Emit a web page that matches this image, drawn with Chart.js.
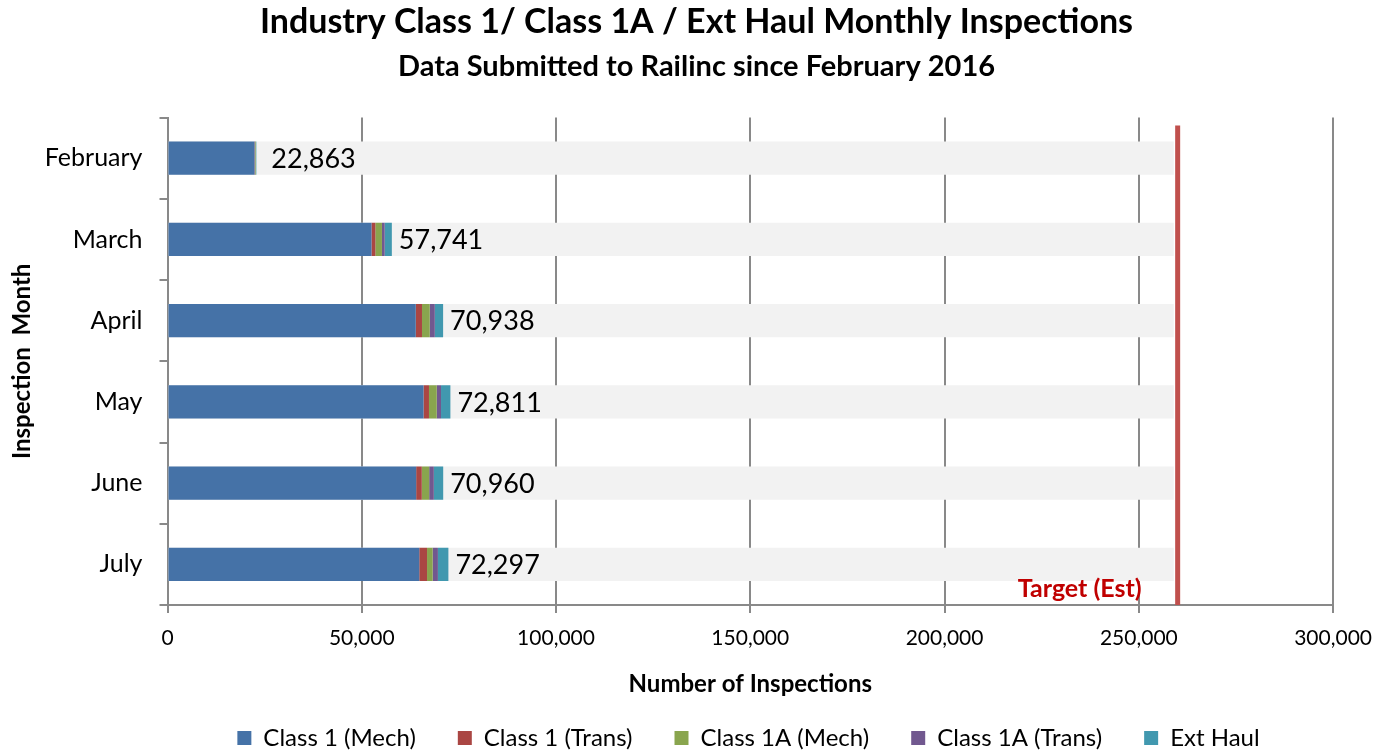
<!DOCTYPE html>
<html>
<head>
<meta charset="utf-8">
<script src="https://cdn.jsdelivr.net/npm/chart.js@4.4.0/dist/chart.umd.min.js"></script>
<style>
  body { margin: 0; background: #fff; }
  #wrap { width: 1385px; height: 755px; }
</style>
</head>
<body>
<div id="wrap"><canvas id="inspChart" width="1385" height="755"></canvas></div>
<script>
var months = ['February', 'March', 'April', 'May', 'June', 'July'];
var class1Mech = [22400, 52500, 63900, 65900, 64000, 64800];
var class1Trans = [120, 1000, 1600, 1400, 1450, 2000];
var class1AMech = [150, 1700, 2000, 2000, 1900, 1450];
var class1ATrans = [60, 700, 1300, 1100, 1200, 1350];
var extHaul = [133, 1841, 2138, 2411, 2410, 2697];
var targetValue = 260000;
var targetBar = [259000, 259000, 259000, 259000, 259000, 259000];
var xTicks = [0, 50000, 100000, 150000, 200000, 250000, 300000];

var fontName = 'Lato, "Open Sans", sans-serif';

// totals labels + target line
var extrasPlugin = {
    id: 'extras',
    afterLayout: function (chart) {
        // legend sits lower and a bit right of centre in the original
        chart.legend.left += 52;
        chart.legend.right += 52;
        chart.legend.top = 684;
    },
    afterDatasetsDraw: function (chart) {
        var ctx = chart.ctx;
        var x = chart.scales.x, y = chart.scales.y;
        ctx.save();
        ctx.font = '27px ' + fontName;
        ctx.fillStyle = '#000';
        ctx.textBaseline = 'middle';
        ctx.textAlign = 'left';
        for (var i = 0; i < months.length; i++) {
            var total = class1Mech[i] + class1Trans[i] + class1AMech[i] + class1ATrans[i] + extHaul[i];
            var gap = i === 0 ? 15 : 7;
            ctx.fillText(total.toLocaleString('en-US'), x.getPixelForValue(total) + gap, y.getPixelForValue(i) + 1);
        }
        var tx = x.getPixelForValue(targetValue);
        ctx.strokeStyle = '#C0504D';
        ctx.lineWidth = 5;
        ctx.beginPath();
        ctx.moveTo(tx, chart.chartArea.top + 8);
        ctx.lineTo(tx, chart.chartArea.bottom);
        ctx.stroke();
        ctx.font = 'bold 25px ' + fontName;
        ctx.fillStyle = '#C00000';
        ctx.textAlign = 'right';
        ctx.fillText('Target (Est)', tx - 36, chart.chartArea.bottom - 16);
        ctx.restore();
    }
};

function seg(label, data, color) {
    return { label: label, data: data, backgroundColor: color, stack: 'a', grouped: false,
             barPercentage: 0.41, categoryPercentage: 1, order: 1 };
}

new Chart(document.getElementById('inspChart'), {
    type: 'bar',
    data: {
        labels: months,
        datasets: [
            seg('Class 1 (Mech)', class1Mech, '#4572A7'),
            seg('Class 1 (Trans)', class1Trans, '#AA4643'),
            seg('Class 1A (Mech)', class1AMech, '#89A54E'),
            seg('Class 1A (Trans)', class1ATrans, '#71588F'),
            seg('Ext Haul', extHaul, '#4198AF'),
            { label: 'bg', data: targetBar, backgroundColor: '#F2F2F2', stack: 'b', grouped: false,
              barPercentage: 0.41, categoryPercentage: 1, order: 10 }
        ]
    },
    options: {
        indexAxis: 'y',
        responsive: false,
        animation: false,
        layout: { padding: { left: 8, right: 0, top: 0, bottom: 0 } },
        scales: {
            x: {
                stacked: true,
                min: 0, max: 300000,
                afterBuildTicks: function (axis) { axis.ticks = xTicks.map(function (v) { return { value: v }; }); },
                grid: { color: '#898989', lineWidth: 2, tickLength: 8 },
                border: { color: '#898989', width: 2 },
                ticks: { color: '#000', font: { size: 21, family: fontName }, padding: 13,
                         callback: function (v) { return v.toLocaleString('en-US'); } },
                title: { display: true, text: 'Number of Inspections', color: '#000',
                         font: { size: 24, weight: 'bold', family: fontName }, padding: { top: 6, bottom: 0 } }
            },
            y: {
                stacked: true,
                grid: { drawOnChartArea: false, color: '#898989', lineWidth: 2, tickLength: 8, offset: true },
                border: { color: '#898989', width: 2 },
                ticks: { color: '#000', font: { size: 25, family: fontName }, padding: 17 },
                title: { display: true, text: 'Inspection  Month', color: '#000',
                         font: { size: 24, weight: 'bold', family: fontName }, padding: { top: 0, bottom: -9 } }
            },
            rightSpace: {
                type: 'linear', axis: 'y', position: 'right',
                grid: { display: false }, border: { display: false }, ticks: { display: false },
                afterFit: function (s) { s.width = 49; }
            }
        },
        plugins: {
            title: { display: true, text: 'Industry Class 1/ Class 1A / Ext Haul Monthly Inspections', color: '#000',
                     font: { size: 34, weight: 'bold', family: fontName }, padding: { top: 2, bottom: 4 } },
            subtitle: { display: true, text: 'Data Submitted to Railinc since February 2016', color: '#000',
                        font: { size: 29, weight: 'bold', family: fontName }, padding: { top: 2, bottom: 34 } },
            legend: {
                position: 'bottom',
                maxHeight: 56,
                labels: { color: '#000', font: { size: 24, family: fontName }, boxWidth: 14, boxHeight: 14,
                          padding: 42, filter: function (item) { return item.text !== 'bg'; } }
            },
            tooltip: { enabled: false }
        }
    },
    plugins: [extrasPlugin]
});
</script>
</body>
</html>
